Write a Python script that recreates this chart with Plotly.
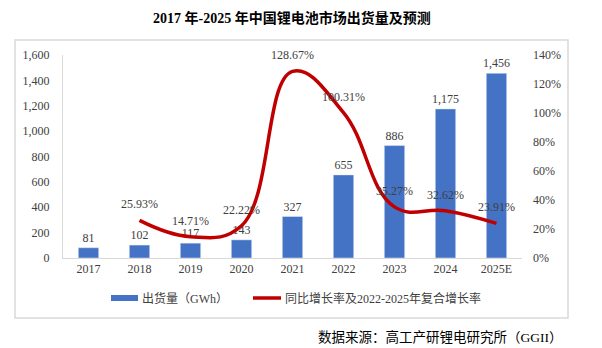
import plotly.graph_objects as go

years = ["2017", "2018", "2019", "2020", "2021", "2022", "2023", "2024", "2025E"]
shipments = [81, 102, 117, 143, 327, 655, 886, 1175, 1456]
growth_years = ["2018", "2019", "2020", "2021", "2022", "2023", "2024", "2025E"]
growth = [0.2593, 0.1471, 0.2222, 1.2867, 1.0031, 0.3527, 0.3262, 0.2391]
growth_labels = ["25.93%", "14.71%", "22.22%", "128.67%", "100.31%", "35.27%", "32.62%", "23.91%"]
bar_labels = ["81", "102", "117", "143", "327", "655", "886", "1,175", "1,456"]

title = "2017 年-2025 年中国锂电池市场出货量及预测"
bar_name = "出货量（GWh）"
line_name = "同比增长率及2022-2025年复合增长率"
source = "数据来源：高工产研锂电研究所（GGII）"

FONT = "Liberation Serif, Times New Roman, Noto Sans CJK SC, serif"
BLUE = "#4472C4"
RED = "#C00000"
TXT = "#404040"

W, H = 602, 348
L, R, T, B = 63, 80, 55, 90
PW = W - L - R
PH = H - T - B

def px(x):
    return (x - L) / PW

def py(y):
    return (H - B - y) / PH

fig = go.Figure()
fig.add_trace(go.Bar(
    x=years, y=shipments, marker_color=BLUE, width=0.4,
    text=bar_labels, textposition="outside", cliponaxis=False, constraintext="none",
    textfont=dict(family=FONT, size=12, color=TXT), name=bar_name,
))
fig.add_trace(go.Scatter(
    x=growth_years, y=growth, yaxis="y2", mode="lines",
    line=dict(color=RED, width=3.5, shape="spline", smoothing=1.2),
    cliponaxis=False, name=line_name,
))

shapes = [
    dict(type="rect", xref="paper", yref="paper", x0=px(15), x1=px(568), y0=py(318), y1=py(40),
         line=dict(color="#D9D9D9", width=1.5), fillcolor="rgba(0,0,0,0)", layer="below"),
    dict(type="rect", xref="paper", yref="paper", x0=px(111), x1=px(138), y0=py(301), y1=py(295),
         line=dict(width=0), fillcolor=BLUE),
    dict(type="line", xref="paper", yref="paper", x0=px(253), x1=px(281), y0=py(298), y1=py(298),
         line=dict(color=RED, width=3.5)),
]
annotations = [
    dict(text="<b>" + title + "</b>", xref="paper", yref="paper", x=px(292), y=py(18),
         showarrow=False, xanchor="center", yanchor="middle",
         font=dict(family=FONT, size=14, color="#000000")),
    dict(text=bar_name, xref="paper", yref="paper", x=px(140), y=py(298), showarrow=False,
         xanchor="left", yanchor="middle", font=dict(family=FONT, size=12, color=TXT)),
    dict(text=line_name, xref="paper", yref="paper", x=px(283), y=py(298), showarrow=False,
         xanchor="left", yanchor="middle", font=dict(family=FONT, size=12, color=TXT)),
    dict(text=source, xref="paper", yref="paper", x=px(565), y=py(337), showarrow=False,
         xanchor="right", yanchor="middle", font=dict(family=FONT, size=13.5, color="#000000")),
]
for xv, yv, lab in zip(growth_years, growth, growth_labels):
    annotations.append(dict(
        text=lab, x=years.index(xv), y=yv, xref="x", yref="y2", showarrow=False,
        xanchor="center", yanchor="middle", yshift=16,
        font=dict(family=FONT, size=12, color=TXT),
    ))

fig.update_layout(
    width=W, height=H, margin=dict(l=L, r=R, t=T, b=B),
    paper_bgcolor="white", plot_bgcolor="white", showlegend=False,
    font=dict(family=FONT, size=12, color=TXT),
    bargap=0.6,
    xaxis=dict(type="category", categoryorder="array", categoryarray=years,
               range=[-0.5, len(years) - 0.5], showline=True, linecolor="#D9D9D9", linewidth=1,
               ticks="", showgrid=False, tickfont=dict(family=FONT, size=12, color=TXT)),
    yaxis=dict(range=[0, 1600], dtick=200, tickformat=",", showgrid=False, zeroline=False,
               showline=True, linecolor="#D9D9D9", linewidth=1, ticks="",
               ticklabelstandoff=10, tickfont=dict(family=FONT, size=12, color=TXT)),
    yaxis2=dict(range=[0, 1.4], dtick=0.2, tickformat=".0%", overlaying="y", side="right",
                showgrid=False, zeroline=False, showline=False, ticks="",
                ticklabelstandoff=10, tickfont=dict(family=FONT, size=12, color=TXT)),
    shapes=shapes, annotations=annotations,
)

fig.write_html("out.html")
